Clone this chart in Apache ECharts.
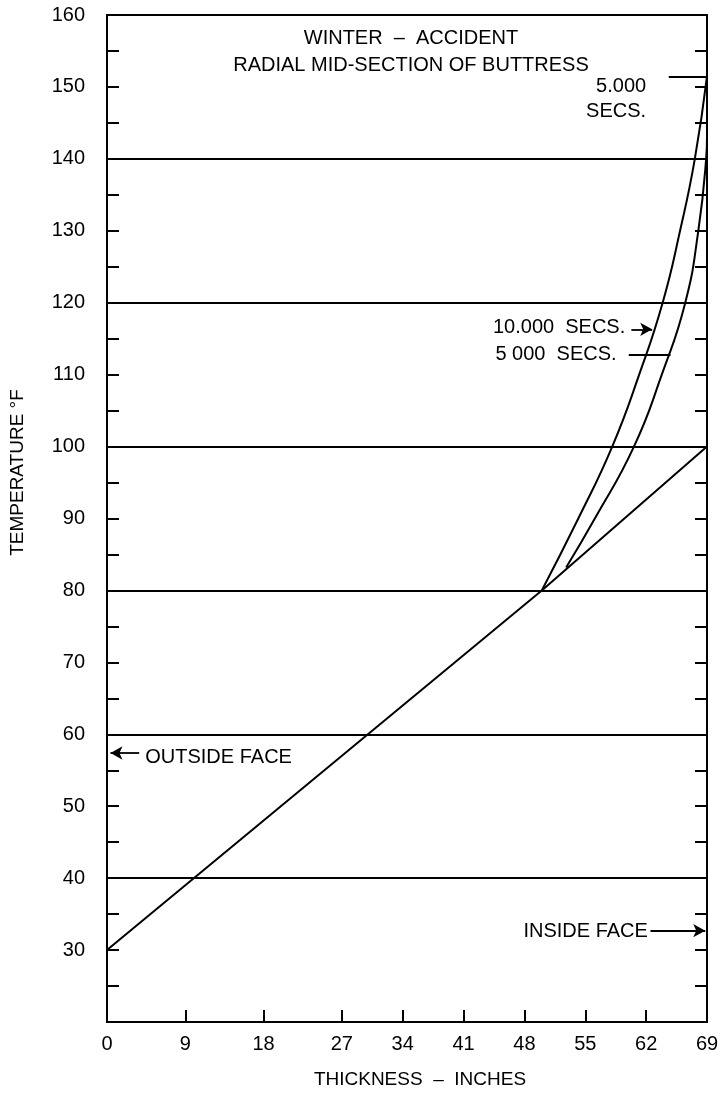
<!DOCTYPE html>
<html>
<head>
<meta charset="utf-8">
<script src="https://cdn.jsdelivr.net/npm/echarts@6/dist/echarts.min.js"></script>
<style>
html, body { margin: 0; padding: 0; background: #fff; }
#main { width: 724px; height: 1097px; }
</style>
</head>
<body>
<div id="main"></div>
<script>
// values
var thicknessTicks = [0, 9, 18, 27, 34, 41, 48, 55, 62, 69];
var steadyState = [[0, 30], [50, 80], [69, 100]];
var secs10000 = [[50, 80], [54.2, 90], [58.1, 100], [61.2, 110], [63.9, 120], [65.9, 130],
    [67.6, 140], [69, 151.5]];
var secs5000 = [[52.8, 83.2], [56.1, 90], [60.6, 100], [63.8, 110], [66.5, 120], [68, 130],
    [68.9, 140], [69, 143]];

var notes = [
    { text: '5.000', at: [62.0, 150.0], align: 'right' },
    { text: 'SECS.', at: [62.0, 146.6], align: 'right' },
    { text: '10.000  SECS.', at: [59.6, 116.5], align: 'right' },
    { text: '5 000  SECS.', at: [58.6, 112.8], align: 'right' },
    { text: 'OUTSIDE FACE', at: [4.4, 56.8], align: 'left' },
    { text: 'INSIDE FACE', at: [62.2, 32.6], align: 'right' }
];
var pointers = [
    { from: [64.6, 151.4], to: [69, 151.4], head: 'none' },
    { from: [60.3, 116.3], to: [62.7, 116.3], head: 'arrow' },
    { from: [60.0, 112.7], to: [64.8, 112.7], head: 'none' },
    { from: [3.7, 57.4], to: [0.4, 57.4], head: 'arrow' },
    { from: [62.5, 32.7], to: [68.8, 32.7], head: 'arrow' }
];

var font = 'Liberation Sans';
var ink = '#000';

var myChart = echarts.init(document.getElementById('main'));

var lineStyle = { color: ink, width: 2 };

var option = {
    backgroundColor: '#fff',
    animation: false,
    title: {
        text: 'WINTER  –  ACCIDENT\nRADIAL MID-SECTION OF BUTTRESS',
        left: 406,
        top: 20,
        textAlign: 'center',
        textStyle: { fontFamily: font, fontSize: 20, fontWeight: 'normal', color: ink, lineHeight: 27 }
    },
    grid: {
        left: 105, right: 17, top: 15, bottom: 75,
        show: true, borderColor: ink, borderWidth: 2
    },
    xAxis: {
        type: 'value',
        min: 0,
        max: 69,
        name: 'THICKNESS  –  INCHES',
        nameLocation: 'middle',
        nameGap: 48,
        nameTextStyle: { fontFamily: font, fontSize: 19, color: ink, padding: [0, 0, 0, 26] },
        axisLine: { lineStyle: { color: ink, width: 2 } },
        axisTick: { inside: true, length: 12, lineStyle: { color: ink, width: 2 }, customValues: thicknessTicks },
        axisLabel: { fontFamily: font, fontSize: 20, color: ink, margin: 12, customValues: thicknessTicks },
        splitLine: { show: false }
    },
    yAxis: [{
        type: 'value',
        min: 20,
        max: 160,
        interval: 5,
        name: 'TEMPERATURE °F',
        nameLocation: 'middle',
        nameRotate: 90,
        nameGap: 80,
        nameTextStyle: { fontFamily: font, fontSize: 19, color: ink, padding: [0, 0, 0, 92] },
        axisLine: { show: true, lineStyle: { color: ink, width: 2 } },
        axisTick: { inside: true, length: 12, lineStyle: { color: ink, width: 2 } },
        axisLabel: {
            fontFamily: font, fontSize: 20, color: ink, margin: 22,
            formatter: function (v) { return (v % 10 === 0 && v >= 30) ? String(v) : ''; }
        },
        splitLine: { show: false }
    }, {
        type: 'value',
        min: 20,
        max: 160,
        interval: 20,
        position: 'left',
        axisLine: { show: false },
        axisTick: { show: false },
        axisLabel: { show: false },
        splitLine: { show: true, lineStyle: { color: ink, width: 2 } }
    }, {
        type: 'value',
        min: 20,
        max: 160,
        interval: 5,
        position: 'right',
        axisLine: { show: true, lineStyle: { color: ink, width: 2 } },
        axisTick: { inside: true, length: 12, lineStyle: { color: ink, width: 2 } },
        axisLabel: { show: false },
        splitLine: { show: false }
    }],
    series: [{
        name: 'steady',
        type: 'line',
        data: steadyState,
        symbol: 'none',
        lineStyle: lineStyle,
        markLine: {
            silent: true,
            animation: false,
            symbolSize: [10, 12],
            label: { show: false },
            lineStyle: { color: ink, width: 1.8, type: 'solid' },
            data: pointers.map(function (p) {
                return [{ coord: p.from, symbol: 'none' }, { coord: p.to, symbol: p.head }];
            })
        }
    }, {
        name: '10000 secs',
        type: 'line',
        data: secs10000,
        symbol: 'none',
        smooth: 0.5,
        lineStyle: lineStyle
    }, {
        name: '5000 secs',
        type: 'line',
        data: secs5000,
        symbol: 'none',
        smooth: 0.5,
        lineStyle: lineStyle
    }]
};

myChart.setOption(option);

// annotation texts, placed from data coordinates
var texts = notes.map(function (n) {
    var p = myChart.convertToPixel({ seriesIndex: 0 }, n.at);
    return {
        type: 'text',
        x: p[0],
        y: p[1],
        style: {
            text: n.text,
            fontFamily: font,
            fontSize: 20,
            fill: ink,
            align: n.align,
            verticalAlign: 'middle'
        }
    };
});
myChart.setOption({ graphic: texts });
</script>
</body>
</html>
